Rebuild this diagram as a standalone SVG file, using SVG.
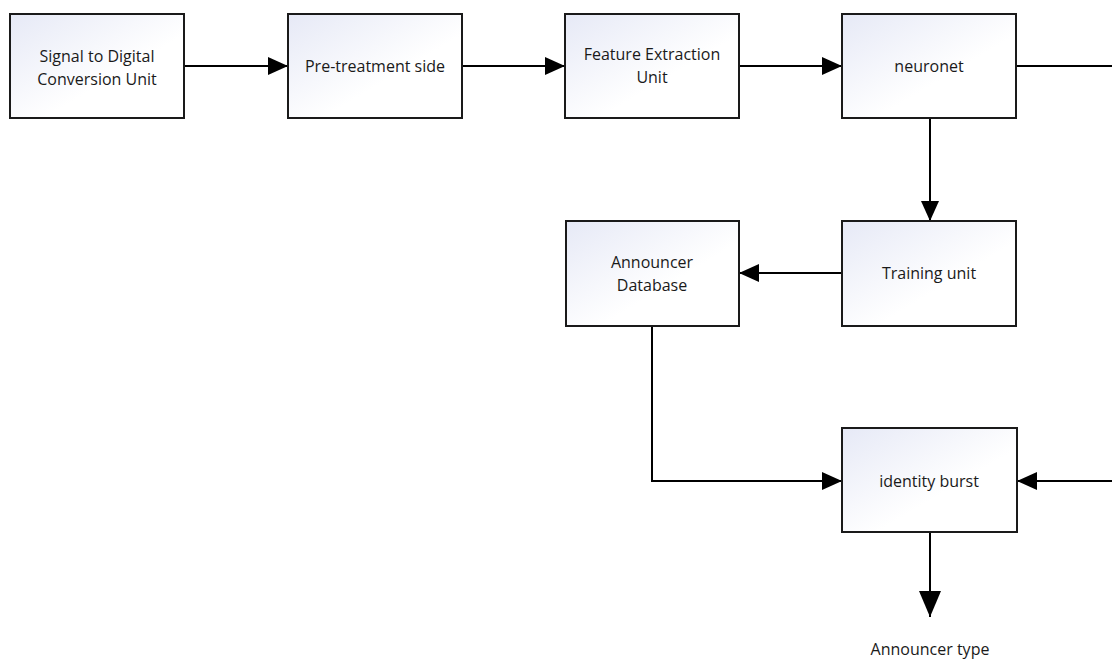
<svg xmlns="http://www.w3.org/2000/svg" width="1112" height="662" viewBox="0 0 1112 662">
<style>
.box{stroke:#1a1a1a;stroke-width:2;fill:url(#g)}
.t{font-family:"Open Sans","Liberation Sans",sans-serif;font-size:16px;fill:#1a1a1a;text-anchor:middle}
.c{stroke:#000;stroke-width:2;fill:none}
</style>
<defs>
<linearGradient id="g" x1="0" y1="0" x2="1" y2="1">
<stop offset="0" stop-color="#e6e9f6"/>
<stop offset="0.6" stop-color="#ffffff"/>
<stop offset="1" stop-color="#ffffff"/>
</linearGradient>
<marker id="a" markerWidth="20" markerHeight="18" refX="20" refY="9" orient="auto" markerUnits="userSpaceOnUse">
<path d="M0,0 L20,9 L0,18 Z" fill="#000"/>
</marker>
<marker id="b" markerWidth="26" markerHeight="22" refX="26" refY="11" orient="auto" markerUnits="userSpaceOnUse">
<path d="M0,0 L26,11 L0,22 Z" fill="#000"/>
</marker>
</defs>
<g id="connectors">
<path class="c" d="M184,66 L288,66" marker-end="url(#a)"/>
<path class="c" d="M462,66 L565,66" marker-end="url(#a)"/>
<path class="c" d="M739,66 L842,66" marker-end="url(#a)"/>
<path class="c" d="M1016,66 L1112,66"/>
<path class="c" d="M930,118 L930,221" marker-end="url(#a)"/>
<path class="c" d="M842,273 L739,273" marker-end="url(#a)"/>
<path class="c" d="M652,326 L652,481 L842,481" marker-end="url(#a)"/>
<path class="c" d="M1112,481 L1017,481" marker-end="url(#a)"/>
<path class="c" d="M930,532 L930,617" marker-end="url(#b)"/>
</g>
<g id="n1"><rect class="box" x="10" y="14" width="174" height="104"/>
<text class="t" x="97" y="62">Signal to Digital</text><text class="t" x="97" y="85">Conversion Unit</text></g>
<g id="n2"><rect class="box" x="288" y="14" width="174" height="104"/>
<text class="t" x="375" y="72">Pre-treatment side</text></g>
<g id="n3"><rect class="box" x="565" y="14" width="174" height="104"/>
<text class="t" x="652" y="60">Feature Extraction</text><text class="t" x="652" y="83">Unit</text></g>
<g id="n4"><rect class="box" x="842" y="14" width="174" height="104"/>
<text class="t" x="929" y="72">neuronet</text></g>
<g id="n5"><rect class="box" x="842" y="221" width="174" height="105"/>
<text class="t" x="929" y="279">Training unit</text></g>
<g id="n6"><rect class="box" x="566" y="221" width="173" height="105"/>
<text class="t" x="652" y="268">Announcer</text><text class="t" x="652" y="291">Database</text></g>
<g id="n7"><rect class="box" x="842" y="428" width="175" height="104"/>
<text class="t" x="929" y="487">identity burst</text></g>
<g id="n8"><text class="t" x="930" y="655">Announcer type</text></g>
</svg>
